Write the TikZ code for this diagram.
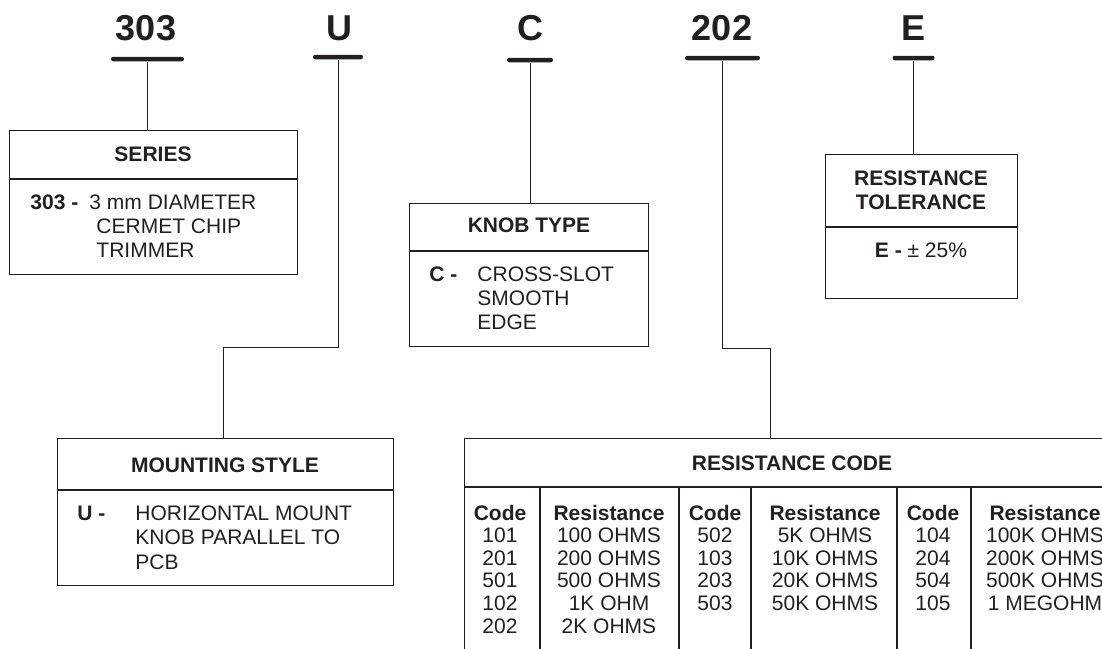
\documentclass[tikz,border=0pt]{standalone}
\usepackage{fontspec}
\setmainfont{Liberation Sans}
\definecolor{ink}{RGB}{35,31,32}

\begin{document}
\begin{tikzpicture}[x=1pt,y=-1pt,ink,line width=0.9pt,
    txt/.style={inner sep=0pt,anchor=base west,font=\fontsize{21}{24}\selectfont},
    hd/.style={inner sep=0pt,anchor=base,font=\fontsize{21}{24}\selectfont\bfseries},
    code/.style={inner sep=0pt,anchor=base,font=\fontsize{36}{40}\selectfont\bfseries},
    bar/.style={fill,rounded corners=2.2pt,inner sep=0pt,minimum height=4.5pt},
    box/.style={draw,line width=1.3pt,inner sep=0pt,anchor=north west},
    col/.style={inner sep=0pt,anchor=base,font=\fontsize{21}{22.6}\selectfont}]
  \useasboundingbox (0,0) rectangle (1102,648);
  \clip (0,0) rectangle (1102,648);

  % part number
  \node[code] (L303) at (146,40) {303};
  \node[code] (LU)   at (339,40) {U};
  \node[code] (LC)   at (530,40) {C};
  \node[code] (L202) at (722,40) {202};
  \node[code] (LE)   at (913,40) {E};
  \node[bar,minimum width=73pt] (B303) at (147.5,59) {};
  \node[bar,minimum width=50pt] (BU)   at (338,57) {};
  \node[bar,minimum width=46pt] (BC)   at (530,60) {};
  \node[bar,minimum width=75pt] (B202) at (722.5,58) {};
  \node[bar,minimum width=42pt] (BE)   at (913.5,58) {};

  % series
  \node[box,minimum width=288pt,minimum height=144pt] (S) at (9,130) {};
  \draw[line width=1.3pt] ([yshift=-49pt]S.north west) -- ([yshift=-49pt]S.north east);
  \node[hd] (Sh) at (153,161) {SERIES};
  \node[txt,font=\fontsize{21}{24}\selectfont\bfseries] (Sk) at (30,209) {303 -};
  \node[txt] (Sb) at (89,209) {\begin{tabular}[t]{@{}l@{}}3 mm DIAMETER\\
    \hspace{7pt}CERMET CHIP\\ \hspace{7pt}TRIMMER\end{tabular}};

  % knob type
  \node[box,minimum width=239pt,minimum height=143pt] (K) at (409,203) {};
  \draw[line width=1.3pt] ([yshift=-48pt]K.north west) -- ([yshift=-48pt]K.north east);
  \node[hd] (Kh) at (529,232) {KNOB TYPE};
  \node[txt,font=\fontsize{21}{24}\selectfont\bfseries] (Kk) at (429,281) {C -};
  \node[txt] (Kb) at (477,281) {\begin{tabular}[t]{@{}l@{}}CROSS-SLOT\\ SMOOTH\\ EDGE\end{tabular}};

  % tolerance
  \node[box,minimum width=192pt,minimum height=144pt] (T) at (825,154) {};
  \draw[line width=1.3pt] ([yshift=-73pt]T.north west) -- ([yshift=-73pt]T.north east);
  \node[hd] (Th) at (921,185) {\begin{tabular}[t]{@{}c@{}}RESISTANCE\\ TOLERANCE\end{tabular}};
  \node[hd,font=\fontsize{21}{24}\selectfont] (Tb) at (921,257) {\textbf{E -} ± 25\%};

  % mounting style
  \node[box,minimum width=336pt,minimum height=147pt] (M) at (57,438) {};
  \draw[line width=1.3pt] ([yshift=-52pt]M.north west) -- ([yshift=-52pt]M.north east);
  \node[hd] (Mh) at (225,472) {MOUNTING STYLE};
  \node[txt,font=\fontsize{21}{24}\selectfont\bfseries] (Mk) at (77,520) {U -};
  \node[txt,font=\fontsize{21}{24.5}\selectfont] (Mb) at (135,520) {\begin{tabular}[t]{@{}l@{}}HORIZONTAL MOUNT\\
    KNOB PARALLEL TO\\ PCB\end{tabular}};

  % resistance code
  \node[box,minimum width=700pt,minimum height=300pt] (R) at (464,438) {};
  \draw[line width=1.3pt] ([yshift=-49pt]R.north west) -- ([yshift=-49pt]R.north east);
  \node[hd] (Rh) at (792,470) {RESISTANCE CODE};
  \foreach \x in {540,679,751,897,971}
    \draw[line width=1.2pt] (\x,487) -- (\x,660);
  \node[col] (C1) at (500,520) {\begin{tabular}[t]{@{}c@{}}\textbf{Code}\\101\\201\\501\\102\\202\end{tabular}};
  \node[col] (R1) at (609,520) {\begin{tabular}[t]{@{}c@{}}\textbf{Resistance}\\100 OHMS\\200 OHMS\\500 OHMS\\1K OHM\\2K OHMS\end{tabular}};
  \node[col] (C2) at (715,520) {\begin{tabular}[t]{@{}c@{}}\textbf{Code}\\502\\103\\203\\503\end{tabular}};
  \node[col] (R2) at (825,520) {\begin{tabular}[t]{@{}c@{}}\textbf{Resistance}\\5K OHMS\\10K OHMS\\20K OHMS\\50K OHMS\end{tabular}};
  \node[col] (C3) at (933,520) {\begin{tabular}[t]{@{}c@{}}\textbf{Code}\\104\\204\\504\\105\end{tabular}};
  \node[col] (R3) at (1045,520) {\begin{tabular}[t]{@{}c@{}}\textbf{Resistance}\\100K OHMS\\200K OHMS\\500K OHMS\\1 MEGOHM\end{tabular}};

  % leaders
  \coordinate (JU) at (223,347);
  \coordinate (J202) at (770,348);
  \draw (B303.south) -- (B303.south |- S.north);
  \draw (BU.south) |- (JU) -- (JU |- M.north);
  \draw (BC.south) -- (BC.south |- K.north);
  \draw (B202.south) |- (J202) -- (J202 |- R.north);
  \draw (BE.south) -- (BE.south |- T.north);
\end{tikzpicture}
\end{document}
